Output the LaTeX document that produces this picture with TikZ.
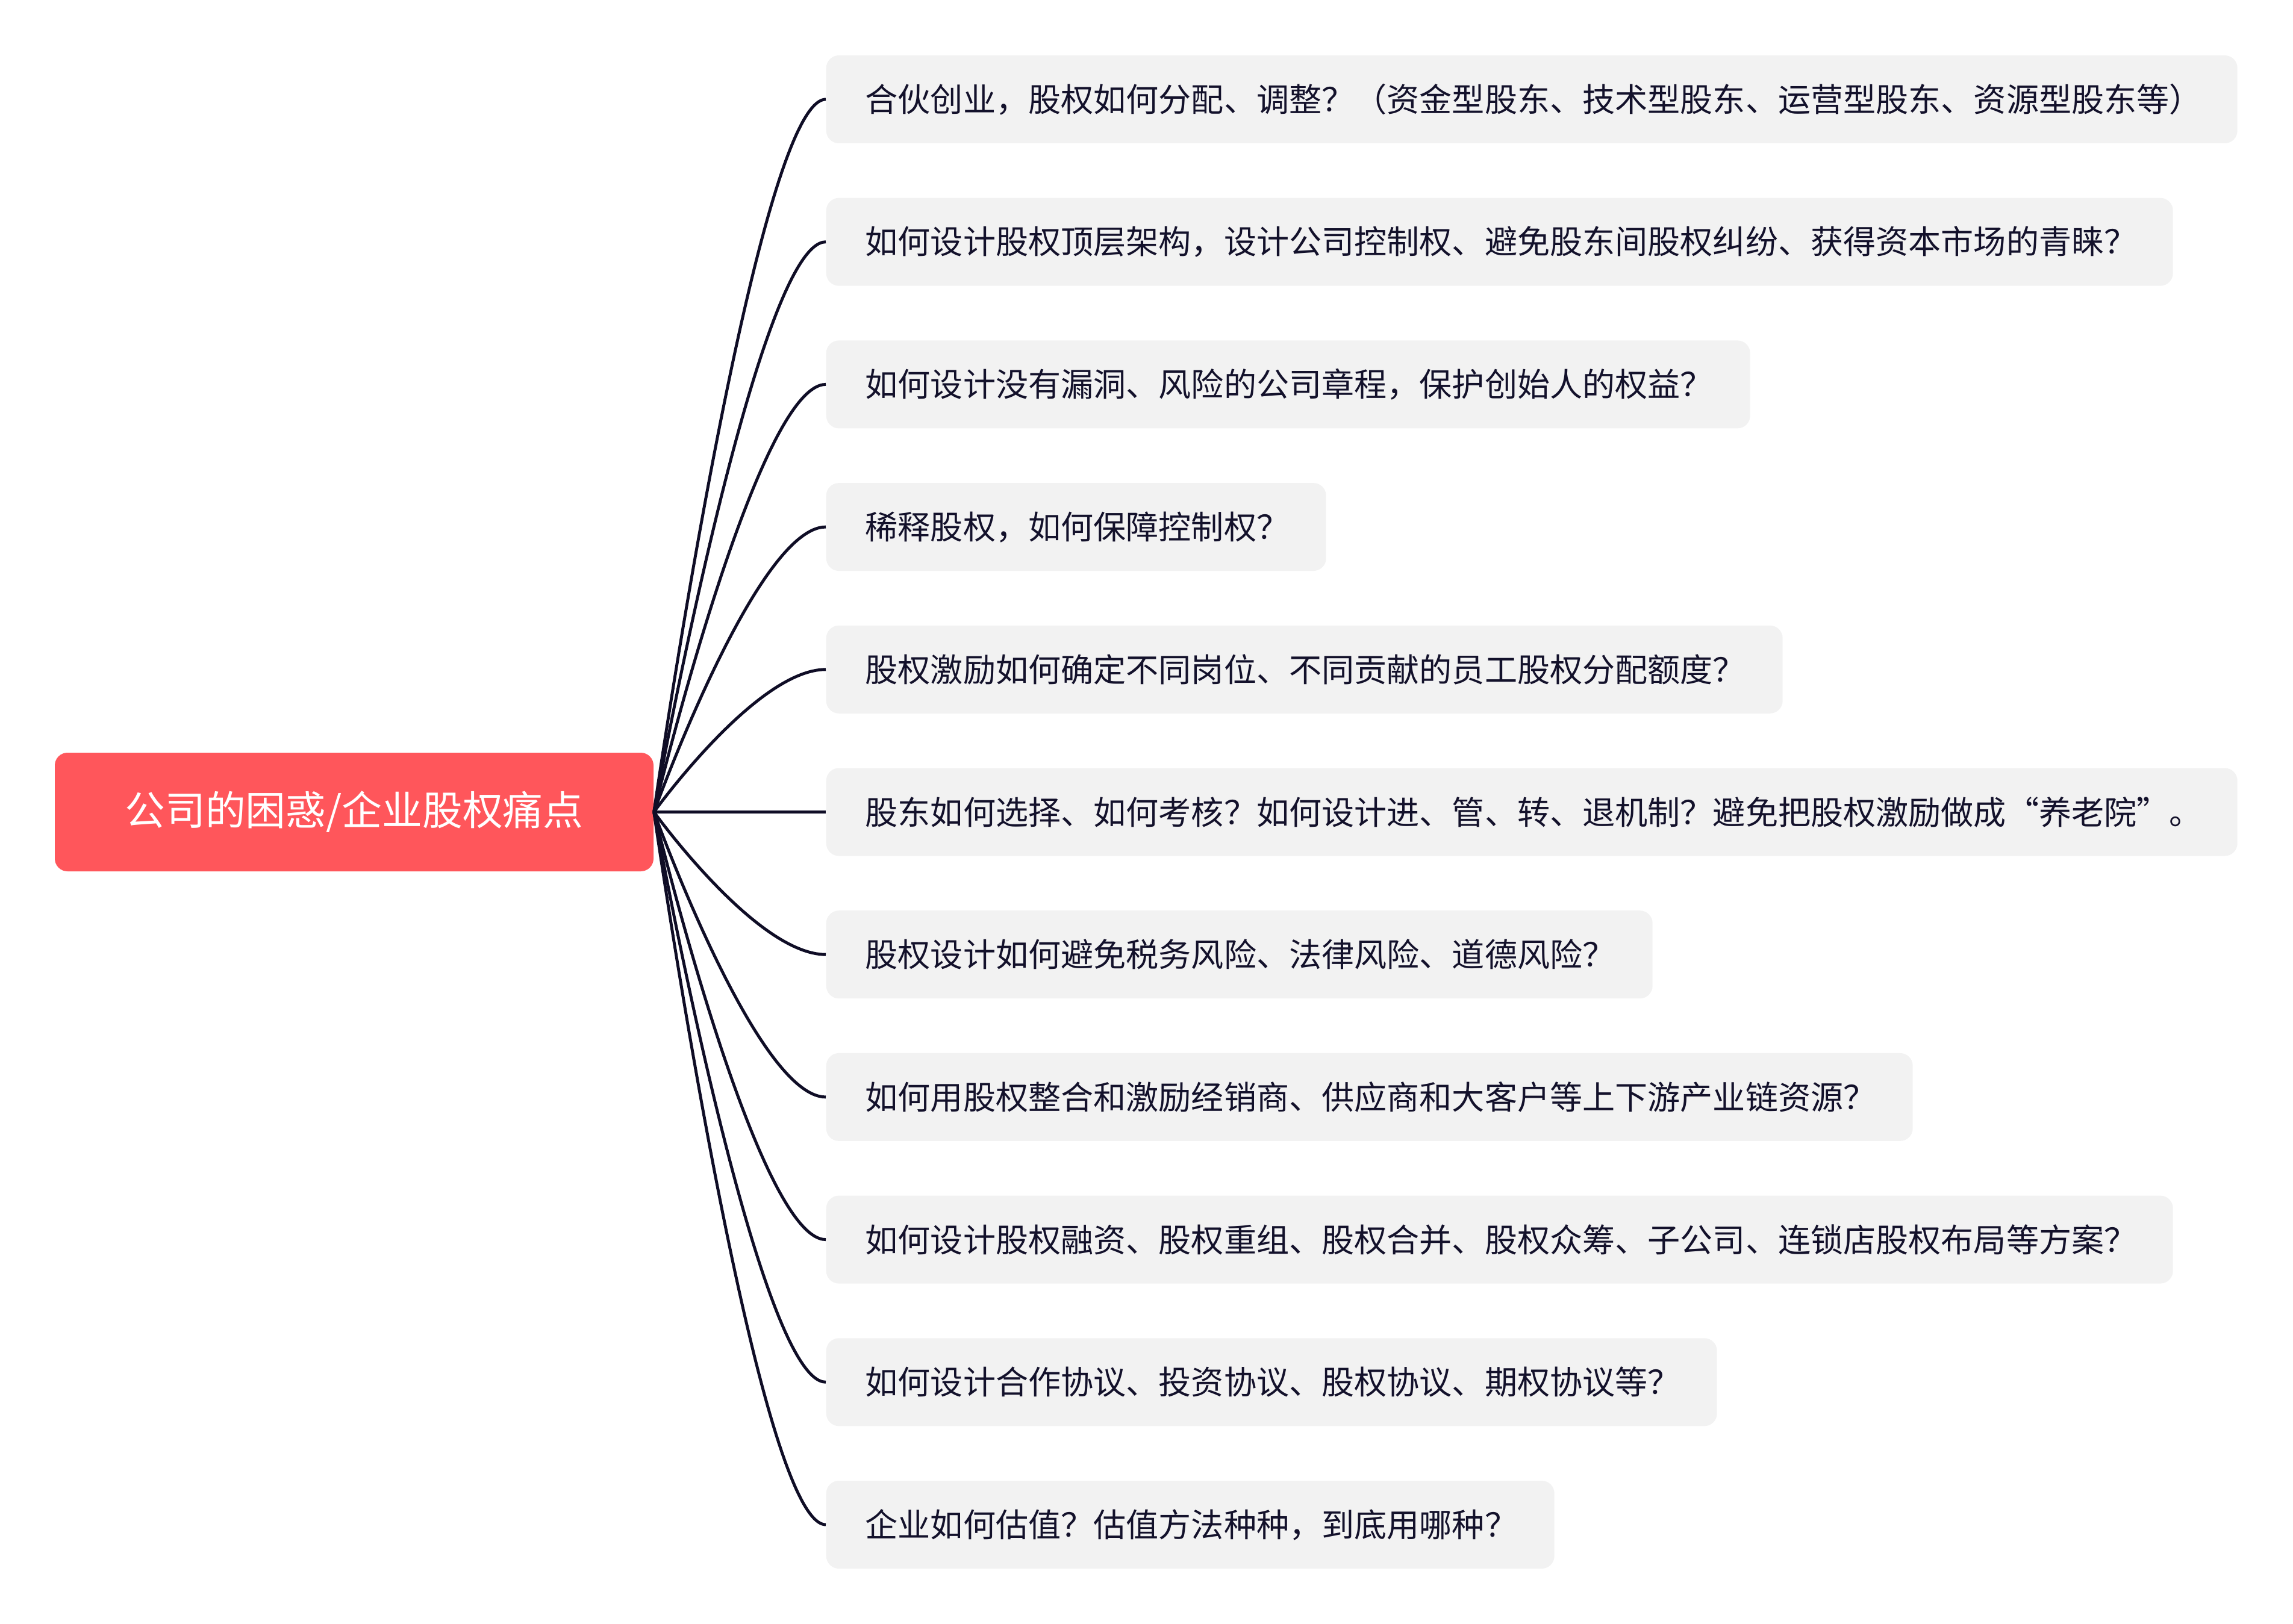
\documentclass[tikz,border=0pt]{standalone}
\usepackage{fontspec}
\setmainfont{Noto Sans CJK SC}
\usepackage{xcolor}
\usetikzlibrary{positioning,calc}
\definecolor{ink}{HTML}{13112B}
\definecolor{branchline}{HTML}{0F0D26}
\definecolor{rootfill}{HTML}{FF565B}
\definecolor{leaffill}{HTML}{F2F2F2}

\begin{document}
\begin{tikzpicture}[
  rootbox/.style={
    fill=rootfill,
    rounded corners=6pt,
    minimum width=9.94cm,
    minimum height=1.97cm,
    font=\fontsize{19pt}{22pt}\selectfont,
    text=white
  },
  leaf/.style={
    fill=leaffill,
    rounded corners=6pt,
    anchor=west,
    align=left,
    inner xsep=0.65cm,
    minimum height=1.46cm,
    font=\fontsize{15.4pt}{18pt}\selectfont,
    text=ink
  },
  branch/.style={line width=1.4pt, draw=branchline}
]

% canvas
\useasboundingbox (0,0) rectangle (38.07,-26.97);

% Root topic
\node[rootbox] (root) at (5.88,-13.485) {公司的困惑/企业股权痛点};

% Subtopics
\node[leaf, text width=22.13cm] (q1) at (13.71,-1.650) {合伙创业，股权如何分配、调整？（资金型股东、技术型股东、运营型股东、资源型股东等）};
\node[leaf, text width=21.06cm] (q2) at (13.71,-4.017) {如何设计股权顶层架构，设计公司控制权、避免股东间股权纠纷、获得资本市场的青睐？};
\node[leaf, text width=14.04cm] (q3) at (13.71,-6.384) {如何设计没有漏洞、风险的公司章程，保护创始人的权益？};
\node[leaf, text width=7.00cm] (q4) at (13.71,-8.751) {稀释股权，如何保障控制权？};
\node[leaf, text width=14.58cm] (q5) at (13.71,-11.118) {股权激励如何确定不同岗位、不同贡献的员工股权分配额度？};
\node[leaf, text width=22.13cm] (q6) at (13.71,-13.485) {股东如何选择、如何考核？如何设计进、管、转、退机制？避免把股权激励做成“养老院”。};
\node[leaf, text width=12.42cm] (q7) at (13.71,-15.852) {股权设计如何避免税务风险、法律风险、道德风险？};
\node[leaf, text width=16.74cm] (q8) at (13.71,-18.219) {如何用股权整合和激励经销商、供应商和大客户等上下游产业链资源？};
\node[leaf, text width=21.06cm] (q9) at (13.71,-20.586) {如何设计股权融资、股权重组、股权合并、股权众筹、子公司、连锁店股权布局等方案？};
\node[leaf, text width=13.49cm] (q10) at (13.71,-22.953) {如何设计合作协议、投资协议、股权协议、期权协议等？};
\node[leaf, text width=10.79cm] (q11) at (13.71,-25.320) {企业如何估值？估值方法种种，到底用哪种？};

% Branches
\draw[branch] (root.east) .. controls (root.east) and ([xshift=-1.15cm]q1.west) .. (q1.west);
\draw[branch] (root.east) .. controls (root.east) and ([xshift=-1.15cm]q2.west) .. (q2.west);
\draw[branch] (root.east) .. controls (root.east) and ([xshift=-1.15cm]q3.west) .. (q3.west);
\draw[branch] (root.east) .. controls (root.east) and ([xshift=-1.15cm]q4.west) .. (q4.west);
\draw[branch] (root.east) .. controls (root.east) and ([xshift=-1.15cm]q5.west) .. (q5.west);
\draw[branch] (root.east) -- (q6.west);
\draw[branch] (root.east) .. controls (root.east) and ([xshift=-1.15cm]q7.west) .. (q7.west);
\draw[branch] (root.east) .. controls (root.east) and ([xshift=-1.15cm]q8.west) .. (q8.west);
\draw[branch] (root.east) .. controls (root.east) and ([xshift=-1.15cm]q9.west) .. (q9.west);
\draw[branch] (root.east) .. controls (root.east) and ([xshift=-1.15cm]q10.west) .. (q10.west);
\draw[branch] (root.east) .. controls (root.east) and ([xshift=-1.15cm]q11.west) .. (q11.west);

\end{tikzpicture}
\end{document}
